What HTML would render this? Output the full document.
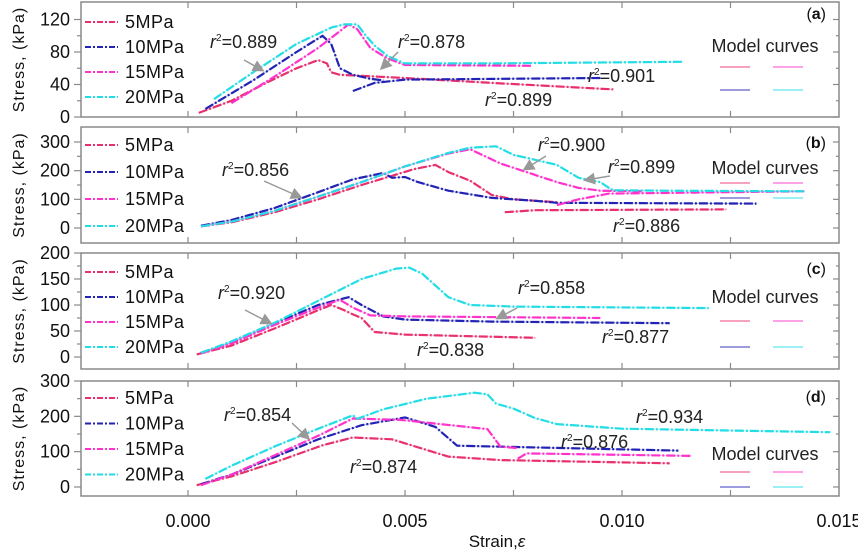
<!DOCTYPE html>
<html><head><meta charset="utf-8"><style>
html,body{margin:0;padding:0;background:#fff;}
svg text{font-family:"Liberation Sans",Arial,sans-serif;}
</style></head><body>
<svg id="chart" width="858" height="550" viewBox="0 0 858 550" xmlns="http://www.w3.org/2000/svg"></svg>
<script>
// ---- data (strain, stress kPa); null breaks a line ----
const xTicks = [0, 0.005, 0.010, 0.015];
const xTickLabels = ["0.000", "0.005", "0.010", "0.015"];
const seriesNames = ["5MPa", "10MPa", "15MPa", "20MPa"];

const a5Strain = [0.00025,0.001,0.0018,0.0025,0.003,0.0032,0.0033,0.0035,0.005,0.007,0.0098];
const a5Stress = [5,20,42,60,70,66,55,52,48,42,34];
const a10Strain = [0.0004,0.0015,0.0025,0.0031,0.0033,0.0035,0.0038,0.0042,0.0045,null,0.0038,0.0043,0.005,0.0095];
const a10Stress = [10,45,80,100,90,60,52,47,45,null,32,42,46,48];
const a15Strain = [0.001,0.002,0.003,0.0037,0.0039,0.0042,0.0046,0.005,0.0079];
const a15Stress = [17,50,85,114,108,85,72,64,63];
const a20Strain = [0.0006,0.0015,0.0025,0.0033,0.0036,0.0039,0.0041,0.0043,0.0046,0.005,0.007,0.0114];
const a20Stress = [22,55,90,110,114,114,100,88,75,66,66,68];

const b5Strain = [0.0003,0.001,0.002,0.003,0.004,0.0052,0.0057,0.006,0.0065,0.007,0.0075,0.0085,null,0.0073,0.008,0.0124];
const b5Stress = [6,20,55,100,150,205,220,195,165,115,100,90,null,55,62,65];
const b10Strain = [0.0003,0.001,0.002,0.003,0.0038,0.0045,0.0047,0.005,0.0053,0.006,0.007,0.008,0.0085,0.0131];
const b10Stress = [8,28,70,125,170,192,175,178,160,130,105,95,88,85];
const b15Strain = [0.0003,0.001,0.002,0.003,0.004,0.005,0.006,0.0065,0.0072,0.0078,0.0085,0.009,0.0095,0.0105,null,0.0085,0.009,0.0097,0.0142];
const b15Stress = [6,22,60,110,160,215,260,275,225,195,160,140,130,128,null,80,100,120,128];
const b20Strain = [0.0003,0.001,0.002,0.003,0.004,0.005,0.006,0.0065,0.0071,0.0075,0.0078,0.0085,0.009,0.0095,0.0097,0.0098,0.011,0.0142];
const b20Stress = [6,22,60,110,160,215,262,280,285,255,245,220,175,160,140,132,130,128];

const c5Strain = [0.0002,0.001,0.002,0.003,0.0033,0.0036,0.0038,0.004,0.0043,0.005,0.008];
const c5Stress = [5,22,55,90,100,90,82,75,48,43,37];
const c10Strain = [0.0003,0.001,0.002,0.003,0.0037,0.004,0.0045,0.005,0.007,0.0111];
const c10Stress = [8,28,65,100,115,100,78,72,68,65];
const c15Strain = [0.0003,0.001,0.002,0.003,0.0035,0.0038,0.0042,0.005,0.0095];
const c15Stress = [7,26,62,95,110,95,80,78,75];
const c20Strain = [0.0003,0.001,0.002,0.003,0.004,0.0048,0.0051,0.0054,0.006,0.0065,0.0075,0.012];
const c20Stress = [8,30,66,108,150,170,172,160,115,100,97,94];

const d5Strain = [0.0002,0.001,0.002,0.0031,0.0038,0.0047,0.0052,0.006,0.0072,0.0111];
const d5Stress = [5,30,70,118,140,135,116,86,76,67];
const d10Strain = [0.0003,0.001,0.002,0.003,0.004,0.005,0.0057,0.0062,0.0113];
const d10Stress = [8,35,85,135,175,197,170,117,103];
const d15Strain = [0.0003,0.001,0.002,0.003,0.0038,0.0049,0.0069,0.0072,0.0076,null,0.0076,0.0078,0.0116];
const d15Stress = [5,35,90,145,194,190,164,114,110,null,80,95,88];
const d20Strain = [0.0004,0.001,0.002,0.003,0.0038,0.0039,0.0045,0.0055,0.0066,0.0069,0.0071,0.0075,0.008,0.0085,0.01,0.0148];
const d20Stress = [23,60,115,165,203,193,220,250,267,262,236,222,195,178,165,155];

// ---- layout (not data) ----
const colors = ["#e8306e", "#2222b4", "#ff33cc", "#22dde6"];
const X0 = 188, XK = 43400, XL = 81, XR = 839;
const panels = [
  {id:"a", top:2, bottom:117, y0:117, k:0.8125, ticks:[0,40,80,120], minor:20, max:120, legY:22, legDy:25,
   sx:[a5Strain,a10Strain,a15Strain,a20Strain], sy:[a5Stress,a10Stress,a15Stress,a20Stress],
   r2:[["0.889",210,48],["0.878",398,48],["0.901",588,82],["0.899",485,106]],
   arrows:[[244,60,262,70],[398,52,382,68]], model:[46,67,90]},
  {id:"b", top:127, bottom:243, y0:228, k:0.2867, ticks:[0,100,200,300], minor:50, max:300, legY:145, legDy:27,
   sx:[b5Strain,b10Strain,b15Strain,b20Strain], sy:[b5Stress,b10Stress,b15Stress,b20Stress],
   r2:[["0.856",222,176],["0.900",538,151],["0.899",608,173],["0.886",613,232]],
   arrows:[[264,181,300,197],[546,156,525,169],[610,176,586,180]], model:[168,183,198]},
  {id:"c", top:253, bottom:369, y0:357, k:0.52, ticks:[0,50,100,150,200], minor:25, max:200, legY:272, legDy:25,
   sx:[c5Strain,c10Strain,c15Strain,c20Strain], sy:[c5Stress,c10Stress,c15Stress,c20Stress],
   r2:[["0.920",218,299],["0.858",518,294],["0.877",602,343],["0.838",417,356]],
   arrows:[[245,310,270,323],[517,308,498,318]], model:[297,321,347]},
  {id:"d", top:381, bottom:496, y0:487, k:0.3533, ticks:[0,100,200,300], minor:50, max:300, legY:398, legDy:25.5,
   sx:[d5Strain,d10Strain,d15Strain,d20Strain], sy:[d5Stress,d10Stress,d15Stress,d20Stress],
   r2:[["0.854",224,421],["0.934",636,423],["0.876",561,448],["0.874",350,473]],
   arrows:[[292,423,308,438]], model:[454,472,487]}
];

const NS = "http://www.w3.org/2000/svg";
const svg = document.getElementById("chart");
function mk(tag, attrs, parent){
  const e = document.createElementNS(NS, tag);
  for (const k in attrs) e.setAttribute(k, attrs[k]);
  (parent||svg).appendChild(e);
  return e;
}
function xScale(s){ return X0 + s*XK; }

const defs = mk("defs", {});
const mrk = mk("marker", {id:"ah", markerWidth:"8", markerHeight:"8", refX:"6", refY:"4", orient:"auto"}, defs);
mk("path", {d:"M0,0 L8,4 L0,8 z", fill:"#999"}, mrk);

panels.forEach(p => {
  const yS = v => p.y0 - v*p.k;
  const g = mk("g", {});
  
  
  const fr = mk("rect", {x:XL, y:p.top, width:XR-XL, height:p.bottom-p.top, fill:"none", stroke:"#8a8a8a", "stroke-width":1.5}, g);
  
  
  for (let s = -0.0025; s <= 0.0151; s += 0.0025) {
    const x = xScale(s);
    if (x < XL+2 || x > XR-2) continue;
    mk("line", {x1:x, x2:x, y1:p.top, y2:p.top+6, stroke:"#8a8a8a", "stroke-width":1.2}, g);
    mk("line", {x1:x, x2:x, y1:p.bottom, y2:p.bottom-6, stroke:"#8a8a8a", "stroke-width":1.2}, g);
  }
  for (let v = 0; v <= p.max + 0.01; v += p.minor) {
    const y = yS(v);
    const major = p.ticks.indexOf(Math.round(v)) >= 0;
    mk("line", {x1:XL-(major?7:4), x2:XL, y1:y, y2:y, stroke:"#8a8a8a", "stroke-width":1.2}, g);
    mk("line", {x1:XR, x2:XR-(major?6:3), y1:y, y2:y, stroke:"#8a8a8a", "stroke-width":1.2}, g);
  }
  p.ticks.forEach(v => {
    const t = mk("text", {x:70, y:yS(v)+6, "text-anchor":"end", "font-size":18, fill:"#111"}, g);
    t.textContent = v;
    
    
  });
  const cy = (p.top+p.bottom)/2;
  const yt = mk("text", {x:0, y:0, transform:`translate(24,${cy}) rotate(-90)`, "text-anchor":"middle", "font-size":16, fill:"#111", "letter-spacing":"1"}, g);
  yt.textContent = "Stress, (kPa)";
  
  
  p.sx.forEach((xs, i) => {
    const ys = p.sy[i];
    let d = "", pen = false;
    for (let j = 0; j < xs.length; j++) {
      if (xs[j] === null || ys[j] === null) { pen = false; continue; }
      d += (pen ? "L" : "M") + xScale(xs[j]).toFixed(1) + "," + yS(ys[j]).toFixed(1);
      pen = true;
    }
    const m = mk("path", {d:d, fill:"none", stroke:colors[i], "stroke-opacity":0.35, "stroke-width":1}, g);
    
    
    const l = mk("path", {d:d, fill:"none", stroke:colors[i], "stroke-width":2.2, "stroke-dasharray":"9,2,2,2", "stroke-linejoin":"round"}, g);
    
    
  });
  seriesNames.forEach((n, i) => {
    const y = p.legY + i*p.legDy;
    const ll = mk("line", {x1:85, x2:118, y1:y, y2:y, stroke:colors[i], "stroke-width":2, "stroke-dasharray":"6,2,2,2"}, g);
    
    
    const lt = mk("text", {x:125, y:y+6, "font-size":18, fill:"#111", "letter-spacing":"0.5"}, g);
    lt.textContent = n;
    
    
  });
  p.r2.forEach(r => {
    const t = mk("text", {x:r[1], y:r[2], "font-size":18, fill:"#222"}, g);
    t.innerHTML = '<tspan font-style="italic">r</tspan><tspan dy="-7" font-size="10">2</tspan><tspan dy="7">=' + r[0] + '</tspan>';
    
    
  });
  p.arrows.forEach(a => {
    const ar = mk("line", {x1:a[0], y1:a[1], x2:a[2], y2:a[3], stroke:"#999", "stroke-width":1.5, "marker-end":"url(#ah)"}, g);
    
    
  });
  const pl = mk("text", {x:826, y:(p.id==="a"?19:p.top+21), "text-anchor":"end", "font-size":16, fill:"#111"}, g);
  pl.innerHTML = '(<tspan font-weight="bold">' + p.id + '</tspan>)';
  
  
  const mt = mk("text", {x:765, y:p.model[0]+6, "text-anchor":"middle", "font-size":18, fill:"#222"}, g);
  mt.textContent = "Model curves";
  
  
  [[720,p.model[1],0],[773,p.model[1],2],[720,p.model[2],1],[773,p.model[2],3]].forEach(q => {
    const ml = mk("line", {x1:q[0], x2:q[0]+30, y1:q[1], y2:q[1], stroke:colors[q[2]], "stroke-opacity":0.6, "stroke-width":1.5}, g);
    
    
  });
});

xTicks.forEach((s, i) => {
  const t = mk("text", {x:xScale(s), y:527, "text-anchor":"middle", "font-size":18, fill:"#111"});
  t.textContent = xTickLabels[i];
  
  
});
const xt = mk("text", {x:497, y:547, "text-anchor":"middle", "font-size":17, fill:"#111"});
xt.innerHTML = 'Strain,<tspan font-style="italic">ε</tspan>';


</script>
</body></html>
